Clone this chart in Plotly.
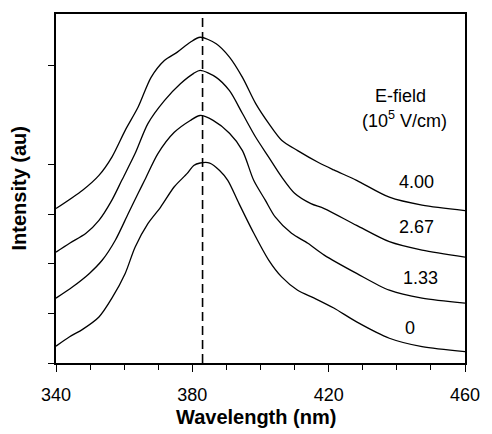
import plotly.graph_objects as go

# ---- data ----
field_labels = ["0", "1.33", "2.67", "4.00"]

wl_0 = [340, 344, 347.8, 352.6, 356.4, 360.3, 363.2, 367, 370.7, 374.7, 378.5, 380.4, 382.3,
        385.1, 388, 390.4, 393.7, 397.6, 402.4, 406.2, 410.9, 415.8, 421.5, 428.2, 437.8, 447.4, 460]
int_0 = [0.34, 0.53, 0.68, 0.93, 1.31, 1.81, 2.34, 2.82, 3.15, 3.56, 3.83, 3.99, 4.04,
         4.04, 3.89, 3.69, 3.22, 2.68, 2.08, 1.74, 1.47, 1.31, 1.11, 0.83, 0.50, 0.33, 0.23]

wl_133 = [340, 344.9, 349.8, 353.6, 357.4, 361.2, 364.1, 366, 369.9, 374.7, 379.4, 382.3, 386.1,
          390.9, 394.7, 398, 401.4, 404.3, 409.1, 413.9, 418.7, 428.2, 437.8, 447.4, 460]
int_133 = [1.31, 1.54, 1.81, 2.08, 2.48, 3.02, 3.43, 3.69, 4.23, 4.66, 4.90, 5.00, 4.90,
           4.64, 4.29, 3.69, 3.29, 2.95, 2.62, 2.42, 2.18, 1.81, 1.47, 1.31, 1.21]

wl_267 = [340, 344, 348.8, 352.6, 356.4, 359.3, 363.2, 367, 371.8, 376.5, 380.4, 382.3, 387,
          390.9, 394.7, 398.6, 402.4, 406.2, 410, 414.8, 418.7, 428.2, 437.8, 447.4, 460]
int_267 = [2.24, 2.42, 2.62, 2.88, 3.29, 3.69, 4.23, 4.84, 5.30, 5.64, 5.85, 5.91, 5.77,
           5.50, 5.04, 4.56, 4.16, 3.76, 3.43, 3.22, 3.12, 2.78, 2.45, 2.28, 2.14]

wl_400 = [340, 347.8, 352.6, 356.4, 360.3, 364.1, 367.9, 371.8, 375.6, 379.4, 382.3, 387,
          390.9, 394.7, 398.6, 402.4, 406.2, 410.9, 417, 421.5, 428.2, 437.8, 447.4, 460]
int_400 = [3.12, 3.49, 3.79, 4.16, 4.70, 5.17, 5.77, 6.11, 6.28, 6.48, 6.58, 6.45,
           6.18, 5.77, 5.24, 4.84, 4.50, 4.29, 4.05, 3.90, 3.69, 3.35, 3.19, 3.08]

peak_wavelength = 383
x_ticks = [340, 380, 420, 460]
y_tick_positions = [0, 1, 2, 3, 4, 6]

series = [(wl_0, int_0), (wl_133, int_133), (wl_267, int_267), (wl_400, int_400)]
label_pos = [(443.9, 0.71), (446.8, 1.71), (445.9, 2.74), (445.9, 3.66)]

FONT = "Arial, Liberation Sans, sans-serif"
Y_MAX = 7.05

fig = go.Figure()
for (wl, inten), name in zip(series, field_labels):
    fig.add_trace(go.Scatter(x=wl, y=inten, mode="lines", name=name,
                             line=dict(color="black", width=1.3, shape="spline", smoothing=0.8),
                             showlegend=False))

fig.add_trace(go.Scatter(x=[peak_wavelength, peak_wavelength], y=[0, Y_MAX], mode="lines",
                         line=dict(color="black", width=1.6, dash="9px,5px"), showlegend=False))

annotations = []
for name, (lx, ly) in zip(field_labels, label_pos):
    annotations.append(dict(x=lx, y=ly, xref="x", yref="y", text=name, showarrow=False,
                            font=dict(family=FONT, size=18, color="black")))
annotations.append(dict(x=441.1, y=5.40, xref="x", yref="y", text="E-field", showarrow=False,
                        font=dict(family=FONT, size=18, color="black")))
annotations.append(dict(x=442.2, y=4.92, xref="x", yref="y", text="(10<sup>5</sup> V/cm)",
                        showarrow=False, font=dict(family=FONT, size=18, color="black")))
annotations.append(dict(x=0.49, y=-0.154, xref="paper", yref="paper", text="<b>Wavelength (nm)</b>",
                        showarrow=False, yanchor="middle",
                        font=dict(family=FONT, size=20, color="black")))
annotations.append(dict(x=-0.0897, y=0.501, xref="paper", yref="paper", text="<b>Intensity (au)</b>",
                        showarrow=False, textangle=-90, xanchor="center", yanchor="middle",
                        font=dict(family=FONT, size=20, color="black")))

fig.update_layout(
    width=492, height=434,
    margin=dict(l=56, r=18, t=13, b=71),
    paper_bgcolor="white", plot_bgcolor="white",
    annotations=annotations,
    font=dict(family=FONT, color="black"),
)
fig.update_xaxes(range=[340, 460], tickvals=x_ticks, ticks="outside", ticklen=7, tickwidth=1.3,
                 tickcolor="black", showgrid=False, zeroline=False, showline=True, mirror=True,
                 linecolor="black", linewidth=1.5, tickfont=dict(family=FONT, size=18, color="black"),
                 ticklabelstandoff=8,
                 minor=dict(dtick=10, tick0=340, ticks="outside", ticklen=5, tickcolor="black",
                            tickwidth=1.3, showgrid=False))
fig.update_yaxes(range=[0, Y_MAX], tickvals=y_tick_positions, showticklabels=False, ticks="outside",
                 ticklen=6, tickwidth=1.3, tickcolor="black", showgrid=False, zeroline=False,
                 showline=True, mirror=True, linecolor="black", linewidth=1.5)

fig.write_html("out.html")
